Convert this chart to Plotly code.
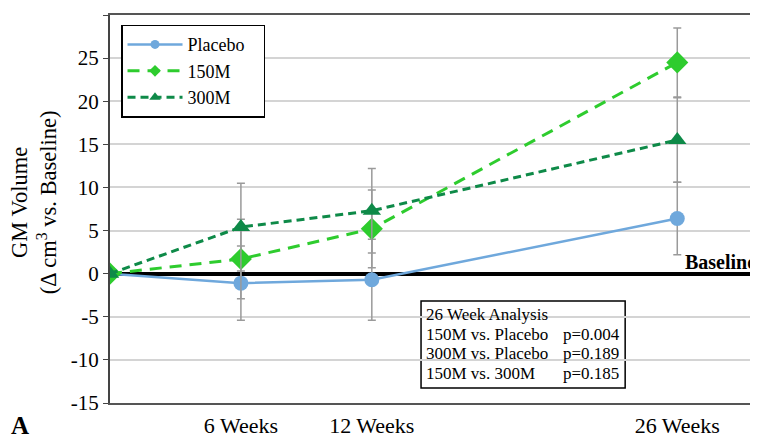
import plotly.graph_objects as go

weeks = [0, 6, 12, 26]
placebo = [0, -1.1, -0.7, 6.4]
placebo_err = [0, 4.3, 4.7, 4.2]
m150 = [0, 1.7, 5.2, 24.5]
m150_err = [0, 4.6, 4.5, 4.0]
m300 = [0, 5.4, 7.3, 15.5]
m300_err = [0, 5.1, 4.9, 4.9]

xtick_vals = [6, 12, 26]
xtick_text = ["6 Weeks", "12 Weeks", "26 Weeks"]
ytick_vals = [-15, -10, -5, 0, 5, 10, 15, 20, 25, 30]
ytick_text = ["-15", "-10", "-5", "0", "5", "10", "15", "20", "25", "30"]

box_left = ["26 Week Analysis", "150M vs. Placebo", "300M vs. Placebo", "150M vs. 300M"]
box_right = ["", "p=0.004", "p=0.189", "p=0.185"]
box_rows_y = [-4.7, -7.0, -9.3, -11.6]

FONT = "Liberation Serif"
ERR = dict(type="data", thickness=1.5, width=4, color="#9a9a9a")

series = [
    ("Placebo", placebo, placebo_err, "#6FA8DC", "solid", "circle", 15, 9),
    ("150M", m150, m150_err, "#2ECC2E", "12px,8px", "diamond", 17, 9),
    ("300M", m300, m300_err, "#0E8A48", "8px,5px", "triangle-up", 16, 10),
]

fig = go.Figure()
for name, vals, errs, col, dash, sym, msize, lsize in series:
    fig.add_trace(go.Scatter(
        x=weeks, y=vals, name=name, mode="lines+markers", showlegend=False,
        line=dict(color=col, width=3 if dash != "solid" else 2.5, dash=dash),
        marker=dict(symbol=sym, size=msize, color=col),
        error_y=dict(array=errs, **ERR)))
for name, vals, errs, col, dash, sym, msize, lsize in series:
    fig.add_trace(go.Scatter(
        x=[None], y=[None], name=name + "\u00a0\u00a0\u00a0", mode="lines+markers",
        showlegend=True,
        line=dict(color=col, width=3 if dash != "solid" else 2.5, dash=dash),
        marker=dict(symbol=sym, size=lsize, color=col)))

annotations = [
    dict(text="<b>Baseline</b>", x=1.0, xref="paper", y=0, yref="y",
         xanchor="right", yanchor="bottom", showarrow=False,
         font=dict(family=FONT, size=20, color="black"), yshift=-1),
    dict(text="<b>A</b>", x=-0.139, xref="paper", y=-0.059, yref="paper",
         xanchor="center", yanchor="middle", showarrow=False,
         font=dict(family=FONT, size=25, color="black")),
    dict(text="GM Volume<br>(Δ cm<sup>3</sup> vs. Baseline)", textangle=-90,
         x=-0.117, xref="paper", y=0.5, yref="paper", yshift=7,
         xanchor="center", yanchor="middle", showarrow=False,
         font=dict(family=FONT, size=22.5, color="black")),
]
for txt, yy in zip(box_left, box_rows_y):
    annotations.append(dict(text=txt, x=0.484, xref="paper", y=yy, yref="y",
                            xanchor="left", yanchor="middle", showarrow=False,
                            font=dict(family=FONT, size=17, color="black")))
for txt, yy in zip(box_right, box_rows_y):
    if txt:
        annotations.append(dict(text=txt, x=0.696, xref="paper", y=yy, yref="y",
                                xanchor="left", yanchor="middle", showarrow=False,
                                font=dict(family=FONT, size=17, color="black")))

fig.update_layout(
    width=750, height=430,
    margin=dict(l=102, r=0, t=7, b=35),
    paper_bgcolor="white", plot_bgcolor="white",
    font=dict(family=FONT, size=18, color="black"),
    showlegend=True,
    legend=dict(x=0.017, y=0.975, xanchor="left", yanchor="top",
                bordercolor="black", borderwidth=1.5, bgcolor="white",
                font=dict(family=FONT, size=18), tracegroupgap=0,
                itemwidth=55),
    xaxis=dict(range=[0, 29.7], tickvals=xtick_vals, ticktext=xtick_text,
               automargin=False,
               showgrid=False, zeroline=False, showline=True, mirror=True,
               linecolor="#555555", linewidth=2, ticks="",
               ticklabelstandoff=2, tickfont=dict(family=FONT, size=22)),
    yaxis=dict(range=[-15, 30], tickvals=ytick_vals, ticktext=ytick_text,
               automargin=False,
               showgrid=True, gridcolor="#d4d4d4", gridwidth=1.5,
               zeroline=True, zerolinecolor="black", zerolinewidth=4,
               showline=True, linecolor="#444444", linewidth=2,
               ticks="outside", ticklen=5, tickcolor="#444444",
               tickfont=dict(family=FONT, size=21)),
    annotations=annotations,
    shapes=[dict(type="rect", xref="paper", yref="y", x0=0.48, x1=0.795,
                 y0=-13.26, y1=-3.17, line=dict(color="black", width=1.5),
                 fillcolor="white", layer="below")],
)

fig.write_html("out.html")
